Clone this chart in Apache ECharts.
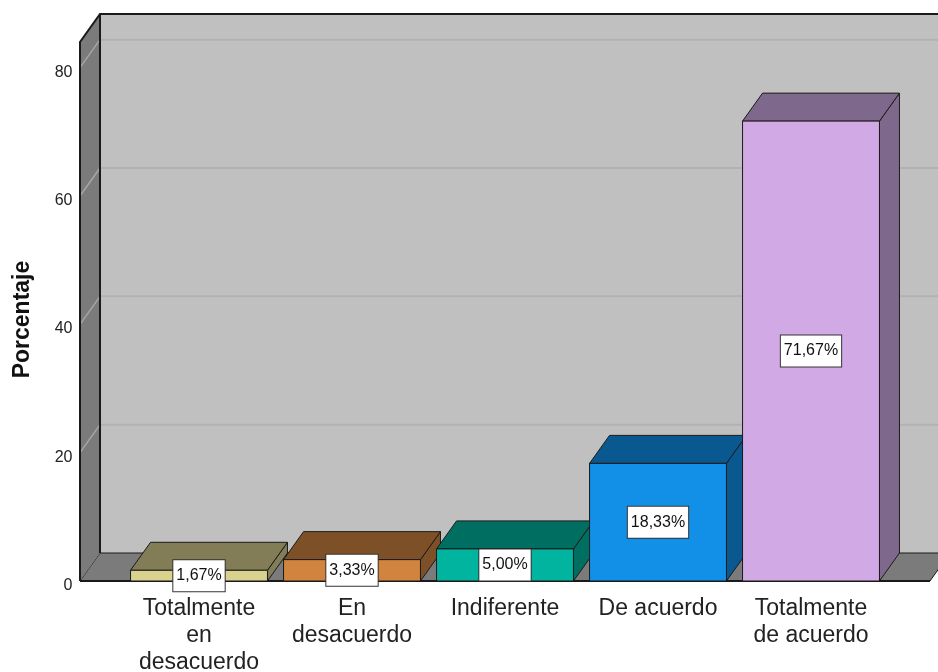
<!DOCTYPE html>
<html>
<head>
<meta charset="utf-8">
<script src="https://cdn.jsdelivr.net/npm/echarts@6/dist/echarts.min.js"></script>
<style>
  html, body { margin: 0; padding: 0; background: #ffffff; }
  #chart { width: 938px; height: 672px; }
</style>
</head>
<body>
<div id="chart"></div>
<script>
// ---- data ----
const categories = ['Totalmente\nen\ndesacuerdo', 'En\ndesacuerdo', 'Indiferente', 'De acuerdo', 'Totalmente\nde acuerdo'];
const percentages = [1.67, 3.33, 5.00, 18.33, 71.67];
const yTicks = [0, 20, 40, 60, 80];
const gridValues = [20, 40, 60, 80];

// ---- styles ----
const frontColors = ['#d8d28e', '#d0843e', '#00b4a0', '#1290e8', '#d1a9e5'];
const topColors = ['#837d57', '#7d5028', '#006e60', '#0a5890', '#7e698c'];
const DX = 20, DY = 28, FLOOR_PAD = 42.5;
const FONT = '"Liberation Sans", Arial, Helvetica, sans-serif';

function fmt(v) { return v.toFixed(2).replace('.', ',') + '%'; }

const chart = echarts.init(document.getElementById('chart'));

function renderWalls(params, api) {
  const cs = params.coordSys;
  const y0 = api.coord([0, 0])[1];
  const yTop = cs.y;
  const xl = cs.x - FLOOR_PAD;
  const xr = cs.x + cs.width + FLOOR_PAD;
  const children = [];
  children.push({ type: 'rect', shape: { x: xl + DX, y: yTop - DY, width: xr - xl + 40, height: y0 - yTop },
    style: { fill: '#c0c0c0' } });
  children.push({ type: 'polygon', shape: { points: [[xl, y0], [xl + DX, y0 - DY], [xr + DX, y0 - DY], [xr, y0]] },
    style: { fill: '#7b7b7b', stroke: '#1a1a1a', lineWidth: 1 } });
  children.push({ type: 'polygon', shape: { points: [[xl, yTop], [xl + DX, yTop - DY], [xl + DX, y0 - DY], [xl, y0]] },
    style: { fill: '#7b7b7b' } });
  gridValues.forEach(function (v) {
    const yy = api.coord([0, v])[1];
    children.push({ type: 'line', shape: { x1: xl + DX, y1: yy - DY, x2: xr + DX + 40, y2: yy - DY },
      style: { stroke: '#b2b2b2', lineWidth: 2 } });
    children.push({ type: 'line', shape: { x1: xl, y1: yy, x2: xl + DX, y2: yy - DY },
      style: { stroke: '#a6a6a6', lineWidth: 1.5 } });
  });
  children.push({ type: 'polyline', shape: { points: [[xl, y0], [xl, yTop], [xl + DX, yTop - DY], [xr + DX + 40, yTop - DY]] },
    style: { stroke: '#1a1a1a', lineWidth: 2, fill: null } });
  children.push({ type: 'line', shape: { x1: xl + DX, y1: yTop - DY, x2: xl + DX, y2: y0 - DY },
    style: { stroke: '#1a1a1a', lineWidth: 2 } });
  children.push({ type: 'line', shape: { x1: xl, y1: y0, x2: xr, y2: y0 },
    style: { stroke: '#1a1a1a', lineWidth: 2 } });
  return { type: 'group', children: children };
}

function renderBar(params, api) {
  const i = api.value(0);
  const v = api.value(1);
  const top = api.coord([i, v]);
  const base = api.coord([i, 0]);
  const w = api.size([1, 0])[0] * 0.895;
  const x0 = top[0] - w / 2, x1 = top[0] + w / 2;
  const yT = top[1], yB = base[1];
  const edge = { stroke: '#1a1a1a', lineWidth: 1 };
  return {
    type: 'group',
    children: [
      { type: 'polygon', shape: { points: [[x1, yT], [x1 + DX, yT - DY], [x1 + DX, yB - DY], [x1, yB]] },
        style: Object.assign({ fill: topColors[i] }, edge) },
      { type: 'polygon', shape: { points: [[x0, yT], [x0 + DX, yT - DY], [x1 + DX, yT - DY], [x1, yT]] },
        style: Object.assign({ fill: topColors[i] }, edge) },
      { type: 'rect', shape: { x: x0, y: yT, width: w, height: yB - yT },
        style: Object.assign({ fill: frontColors[i] }, edge) },
      { type: 'text', x: top[0], y: (yT + yB) / 2, z2: 10,
        style: { text: fmt(v), fill: '#111', font: '16px ' + FONT, align: 'center', verticalAlign: 'middle',
          backgroundColor: '#ffffff', borderColor: '#333333', borderWidth: 1, padding: [8, 3, 7, 3] } }
    ]
  };
}

chart.setOption({
  animation: false,
  backgroundColor: '#ffffff',
  grid: { left: 122.5, right: 50.5, top: 42, bottom: 91, containLabel: false, outerBoundsMode: 'none' },
  xAxis: {
    type: 'category',
    data: categories,
    axisLine: { show: false },
    axisTick: { show: false },
    axisLabel: { margin: 14, fontSize: 23, lineHeight: 27, color: '#222', fontFamily: FONT, interval: 0 }
  },
  yAxis: {
    type: 'value',
    min: 0,
    max: 84,
    interval: 20,
    name: 'Porcentaje',
    nameLocation: 'middle',
    nameGap: 88,
    nameTextStyle: { fontSize: 23, fontWeight: 'bold', color: '#111', fontFamily: FONT, padding: [0, 16, 0, 0] },
    axisLine: { show: false },
    axisTick: { show: false },
    splitLine: { show: false },
    axisLabel: {
      margin: 50, fontSize: 16, color: '#222', fontFamily: FONT, verticalAlign: 'top', lineHeight: 9,
      formatter: function (val) { return yTicks.indexOf(val) >= 0 ? String(val) : ''; }
    }
  },
  series: [
    { type: 'custom', name: 'walls', renderItem: renderWalls, data: [[0, 0]], z: 1, silent: true },
    { type: 'custom', name: 'Porcentaje', renderItem: renderBar, z: 2,
      data: percentages.map(function (p, i) { return [i, p]; }) }
  ]
});
</script>
</body>
</html>
